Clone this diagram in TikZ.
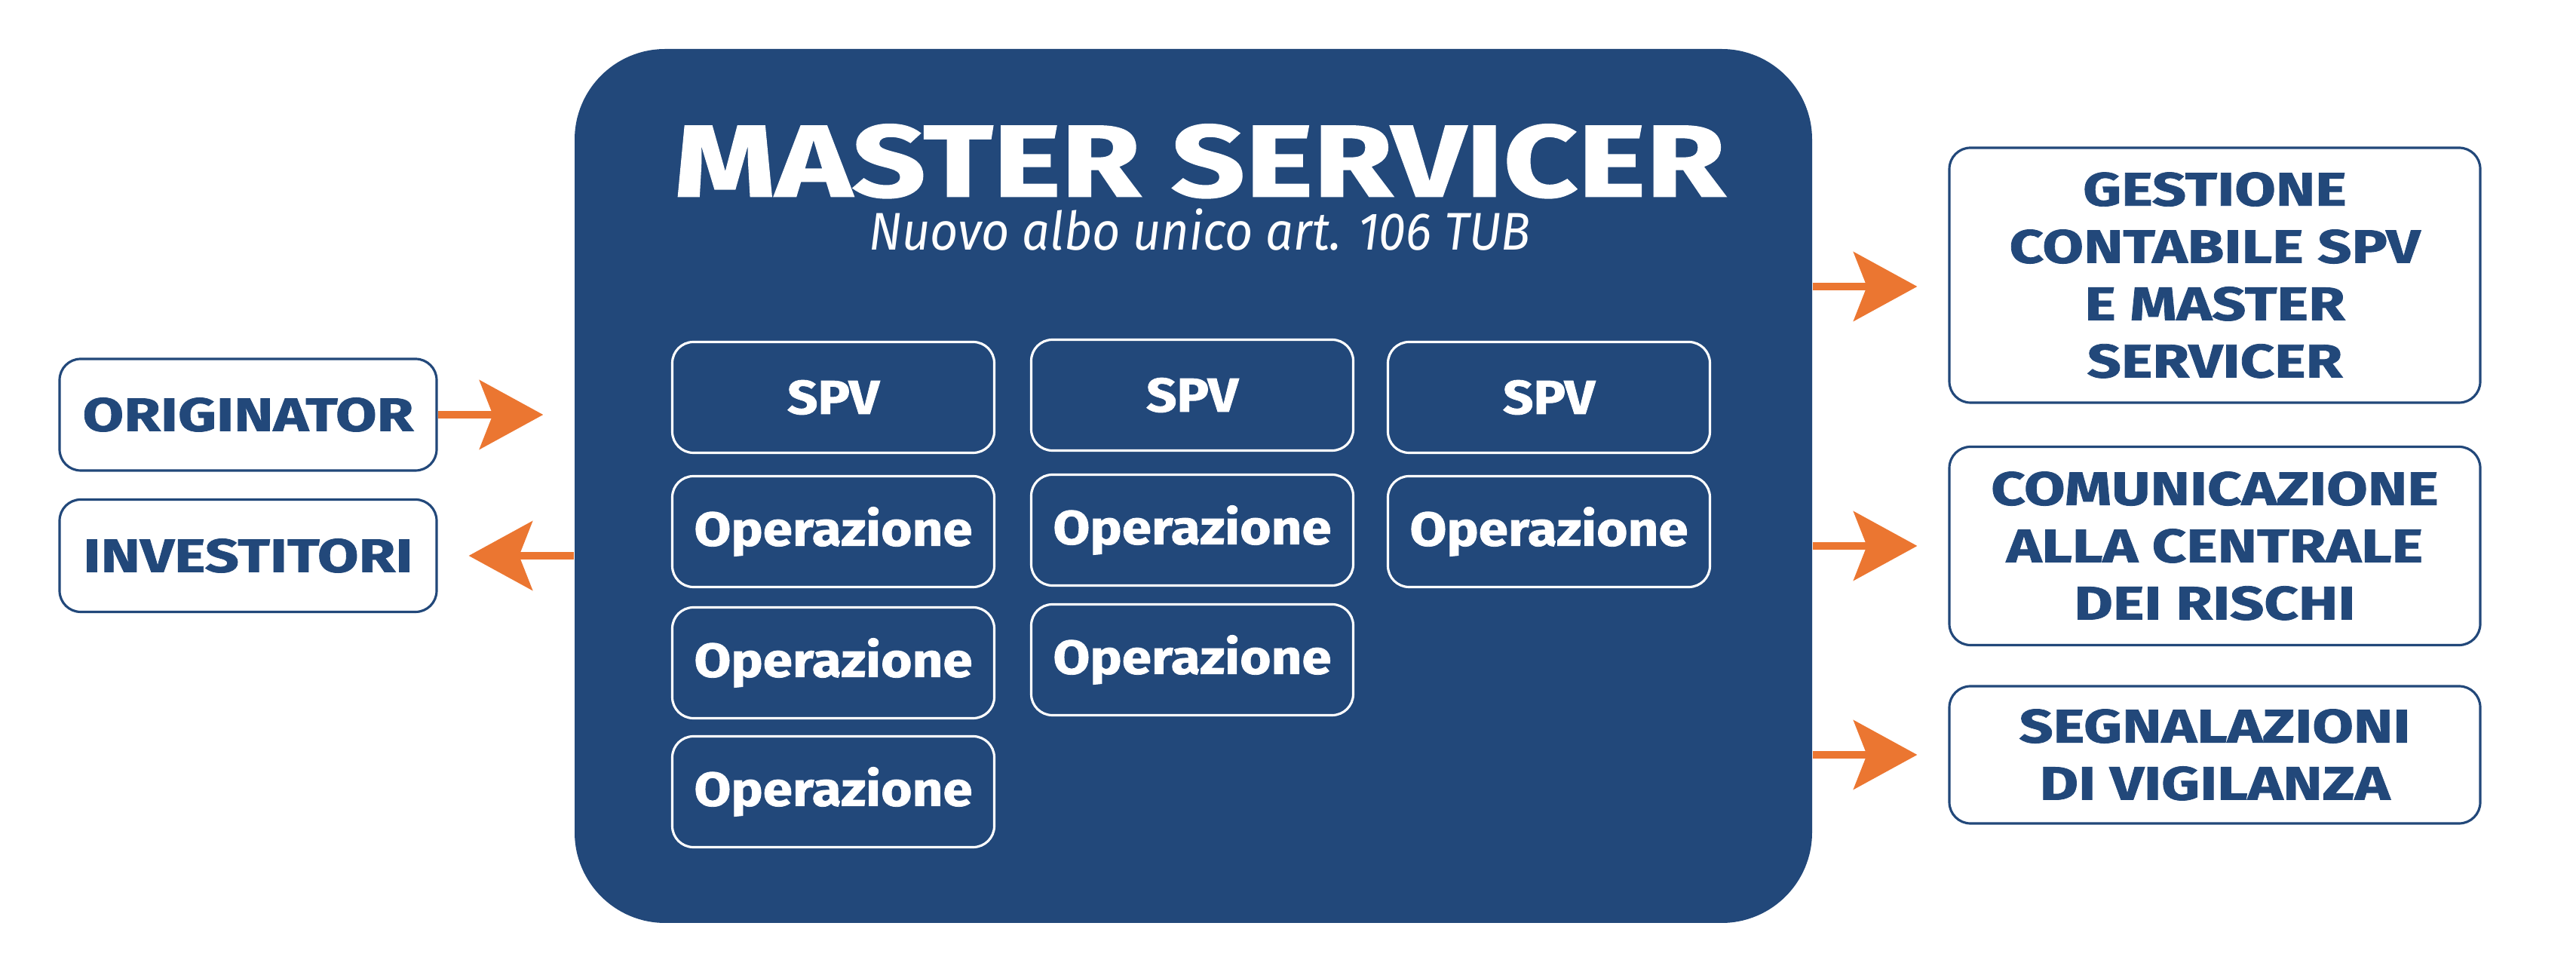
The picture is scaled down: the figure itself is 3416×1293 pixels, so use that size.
\documentclass[tikz,border=0pt]{standalone}
\usepackage{fontspec}
\setmainfont{Fira Sans}
\newfontfamily\widecaps{Fira Sans}[FakeStretch=1.27, FakeBold=1.3]
\newfontfamily\widelow{Fira Sans}[FakeStretch=1.12, FakeBold=1.3]
\newfontfamily\narrowit{Fira Sans}[FakeStretch=0.92]
\usetikzlibrary{arrows.meta}

\definecolor{msblue}{HTML}{22487A}
\definecolor{msorange}{HTML}{EB7631}

\tikzset{
  outbox/.style={draw=msblue, line width=0.9pt, rounded corners=2.8mm, fill=white,
    text=msblue, font=\widecaps\bfseries\fontsize{17.7}{21.6}\selectfont, align=center,
    inner sep=0pt, minimum width=#1},
  outbox/.default=50mm,
  spvbox/.style={draw=white, line width=0.9pt, rounded corners=2.8mm, text=white,
    font=\widelow\bfseries\fontsize{18}{21}\selectfont, inner sep=0pt,
    minimum width=42.7mm, minimum height=14.7mm},
  flow/.style={draw=msorange, line width=2.8pt,
    -{Stealth[length=24pt,width=26pt,inset=5pt]}, shorten >=4.1mm},
}

\begin{document}
\begin{tikzpicture}[x=0.1mm, y=-0.1mm]
  \useasboundingbox (0,0) rectangle (3416,1293);

  \node[fill=msblue, rounded corners=12mm, minimum width=164.1mm, minimum height=115.9mm] (master) at (1582.5, 644.5) {};
  \node[text=white, align=center, inner sep=0pt, anchor=north, font=\fontsize{38.4}{20.2}\selectfont] (title) at (1591, 164)
    {{\widecaps\bfseries MASTER SERVICER}\\{\narrowit\itshape\fontsize{20}{20.2}\selectfont Nuovo albo unico art. 106 TUB}};

  \node[spvbox] (spv1) at (1105, 527) {SPV};
  \node[spvbox] (op11) at (1105, 705) {Operazione};
  \node[spvbox] (op12) at (1105, 879) {Operazione};
  \node[spvbox] (op13) at (1105, 1050) {Operazione};

  \node[spvbox] (spv2) at (1581, 524) {SPV};
  \node[spvbox] (op21) at (1581, 703) {Operazione};
  \node[spvbox] (op22) at (1581, 875) {Operazione};

  \node[spvbox] (spv3) at (2054, 527) {SPV};
  \node[spvbox] (op31) at (2054, 705) {Operazione};

  \node[outbox, minimum height=14.8mm] (orig) at (329, 550) {ORIGINATOR};
  \node[outbox, minimum height=14.9mm] (inv) at (329, 737) {INVESTITORI};

  \node[outbox=70.4mm, minimum height=33.8mm] (gest) at (2937, 365) {GESTIONE\\CONTABILE SPV\\E MASTER\\SERVICER};
  \node[outbox=70.4mm, minimum height=26.3mm] (crif) at (2937, 724) {COMUNICAZIONE\\ALLA CENTRALE\\DEI RISCHI};
  \node[outbox=70.4mm, minimum height=18.2mm] (vig) at (2937, 1001) {SEGNALAZIONI\\DI VIGILANZA};

  % 矢印をかく
  \draw[flow] (orig.east) -- (orig.east -| master.west);
  \draw[flow] (master.west |- inv) -- (inv.east);
  \draw[flow] ([yshift=-1.5mm]master.east |- gest) -- ([yshift=-1.5mm]gest.west);
  \draw[flow] (master.east |- crif) -- (crif.west);
  \draw[flow] (master.east |- vig) -- (vig.west);
\end{tikzpicture}
\end{document}
